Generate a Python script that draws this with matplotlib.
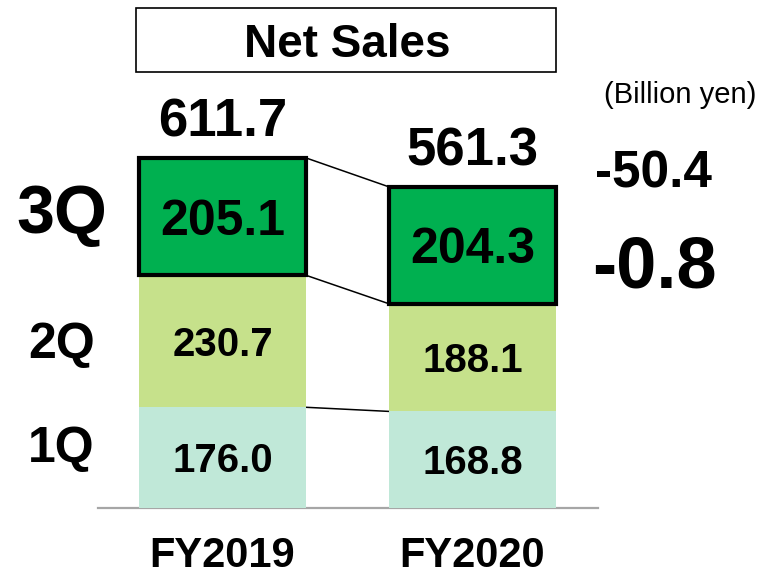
import numpy as np
import matplotlib.pyplot as plt
from matplotlib.patches import Rectangle

plt.rcParams['font.family'] = ['Liberation Sans', 'DejaVu Sans']

# data (billion yen)
years = ['FY2019', 'FY2020']
quarters = ['1Q', '2Q', '3Q']
q1 = [176.0, 168.8]
q2 = [230.7, 188.1]
q3 = [205.1, 204.3]
totals = [611.7, 561.3]  # reported totals (quarters are rounded)
unit_label = '(Billion yen)'
title = 'Net Sales'

colors = ['#c0e8d8', '#c6e18b', '#00b050']
seg_fontsize = [29, 29, 36]
q_label_fontsize = [36, 36, 49]
# baseline positions of the quarter labels on the left (figure fraction)
q_label_y = [0.1993, 0.3795, 0.5962]

segments = [np.array(q1), np.array(q2), np.array(q3)]

fig = plt.figure(figsize=(7.66, 5.77), dpi=100)
ax = fig.add_axes([0, 0, 1, 1])
ax.set_xlim(-0.89, 2.174)
ax.set_ylim(-120.6, 887.8)
ax.axis('off')

x = np.arange(len(years))
w = 0.668
bottom = np.zeros(len(years))
tops = []
for k, seg in enumerate(segments):
    if k == 2:
        ax.bar(x, seg, w, bottom=bottom, color=colors[k], edgecolor='black',
               linewidth=3, zorder=3)
    else:
        ax.bar(x, seg, w, bottom=bottom, color=colors[k], linewidth=0, zorder=2)
    for i in range(len(years)):
        ax.annotate(f'{seg[i]:.1f}', xy=(x[i], bottom[i] + seg[i] / 2),
                    xytext=(0, -0.358 * seg_fontsize[k]), textcoords='offset points',
                    ha='center', va='baseline', fontsize=seg_fontsize[k],
                    fontweight='bold', zorder=5)
    bottom = bottom + seg
    tops.append(bottom.copy())

# connecting lines between the bars
for level in tops:
    ax.plot([x[0] + w / 2, x[1] - w / 2], [level[0], level[1]],
            color='black', linewidth=1.1, zorder=1)

# baseline
ax.plot([-0.5, 1.5], [0, 0], color='#a6a6a6', linewidth=1.6, zorder=1)

# totals above the bars and year labels below
for i in range(len(years)):
    ax.annotate(f'{totals[i]:.1f}', xy=(x[i], tops[-1][i]), xytext=(0, 15.5),
                textcoords='offset points', ha='center', va='baseline',
                fontsize=38, fontweight='bold')
    ax.annotate(years[i], xy=(x[i], 0), xytext=(0, -42.5),
                textcoords='offset points', ha='center', va='baseline',
                fontsize=30, fontweight='bold')

# quarter labels on the left
for k, q in enumerate(quarters):
    ax.text(0.0805, q_label_y[k], q, transform=ax.transAxes, ha='center',
            va='baseline', fontsize=q_label_fontsize[k], fontweight='bold')

# differences on the right
diff_total = totals[1] - totals[0]
diff_q3 = q3[1] - q3[0]
ax.text(0.8525, 0.6742, f'{diff_total:.1f}', transform=ax.transAxes,
        ha='center', va='baseline', fontsize=37, fontweight='bold')
ax.text(0.8538, 0.5009, f'{diff_q3:.1f}', transform=ax.transAxes,
        ha='center', va='baseline', fontsize=52, fontweight='bold')
ax.text(0.8877, 0.8215, unit_label, transform=ax.transAxes,
        ha='center', va='baseline', fontsize=21)

# title box
fig.patches.append(Rectangle((136 / 766, 1 - 72 / 577), 420 / 766, 64 / 577,
                             transform=fig.transFigure, facecolor='white',
                             edgecolor='black', linewidth=1.2))
fig.text(0.453, 0.902, title, ha='center', va='baseline', fontsize=33,
         fontweight='bold')

fig.savefig('out.png', dpi=100)
